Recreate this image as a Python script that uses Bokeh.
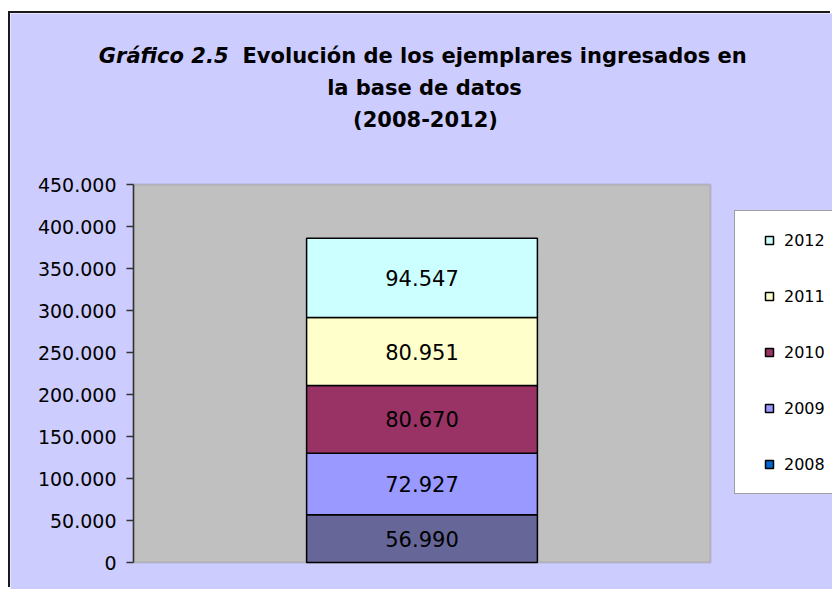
import numpy as np
from bokeh.plotting import figure
from bokeh.models import (Range1d, FixedTicker, Legend, LegendItem, Label,
                          ColumnDataSource, BoxAnnotation)
from bokeh.core.properties import value
from bokeh.embed import file_html
from bokeh.resources import INLINE

# ---------------- data ----------------
years = ["2008", "2009", "2010", "2011", "2012"]
values = [56990, 72927, 80670, 80951, 94547]
bar_colors = ["#666699", "#9999FF", "#993366", "#FFFFCC", "#CCFFFF"]
legend_colors = ["#0066CC", "#9999FF", "#993366", "#FFFFCC", "#CCFFFF"]
category = ["Total"]
y_ticks = [0, 50000, 100000, 150000, 200000, 250000, 300000, 350000, 400000, 450000]
title_italic = "Gráfico 2.5"
title_line1 = "Evolución de los ejemplares ingresados en"
title_line2 = "la base de datos"
title_line3 = "(2008-2012)"


def fmt(v):
    return f"{int(v):,}".replace(",", ".")


FONT = "DejaVu Sans"
LAV = "#CCCCFF"

# layout in pixels (figure-relative); the frame covers the whole canvas
W, H = 822, 576
PLOT_L, PLOT_B = 123, 27           # grey plot area offset from frame left / bottom
PLOT_W, PLOT_H = 577, 378          # grey plot area size
Y_MAX = y_ticks[-1]

# category positions on a numeric axis (0..1 per category)
xs = [i + 0.5 for i in range(len(category))]
n_cat = len(category)
ux = n_cat / PLOT_W                # data units per pixel in x
uy = Y_MAX / PLOT_H                # data units per pixel in y

p = figure(x_range=Range1d(-PLOT_L * ux, (W - PLOT_L) * ux),
           y_range=Range1d(-PLOT_B * uy, (H - PLOT_B) * uy),
           width=W, height=H, output_backend="svg", toolbar_location=None,
           title=None, min_border=0)
p.margin = (13, 0, 0, 10)
p.styles = {"box-shadow": "-2px -2px 0 0 #1a1a1a"}

p.background_fill_color = LAV
p.border_fill_color = LAV
p.outline_line_color = None
p.xgrid.visible = False
p.ygrid.visible = False
p.xaxis.visible = False

# grey plot area
p.add_layout(BoxAnnotation(left=0, right=n_cat, bottom=0, top=Y_MAX,
                           fill_color="#C0C0C0", fill_alpha=1.0,
                           line_color="#808080", line_width=2, level="underlay"))

yax = p.yaxis[0]
yax.fixed_location = 0
yax.bounds = (0, Y_MAX)
yax.ticker = FixedTicker(ticks=y_ticks)
yax.major_label_overrides = {t_: fmt(t_) for t_ in y_ticks}
yax.major_label_text_font = FONT
yax.major_label_text_font_size = "19px"
yax.major_label_text_color = "black"
yax.major_tick_out = 7
yax.major_tick_in = 0
yax.minor_tick_line_color = None
yax.major_label_standoff = 10
yax.axis_line_color = "#333333"
yax.axis_line_width = 1.5
yax.major_tick_line_color = "#333333"
yax.major_tick_line_width = 1.5

# stacked bar
src = ColumnDataSource(dict(x=xs, **{y: [v] for y, v in zip(years, values)}))
p.vbar_stack(years, x="x", width=0.4, source=src, fill_color=bar_colors,
             line_color="black", line_width=1.5)

# value labels
cum = np.cumsum(values)
mids = cum - np.array(values) / 2.0
p.text(x=xs * len(values), y=mids, text=[fmt(v) for v in values],
       text_align="center", text_baseline="middle", text_font=value(FONT),
       text_font_size="21px", text_color="black")

# legend (top to bottom: 2012 .. 2008); proxy renderers carry the legend colours
items = []
for yr, c in reversed(list(zip(years, legend_colors))):
    r = p.scatter(x=xs, y=[np.nan] * len(xs), marker="square", size=8,
                  fill_color=c, line_color="black", line_width=1.5)
    items.append(LegendItem(label=yr, renderers=[r]))
legend = Legend(items=items, location=(724, 95), orientation="vertical",
                glyph_width=30, glyph_height=20, label_height=20,
                label_standoff=0, spacing=36, padding=19,
                label_text_font=FONT, label_text_font_size="16px",
                label_text_color="black",
                border_line_color="#404040", border_line_width=1,
                background_fill_color="white", background_fill_alpha=1.0)
p.add_layout(legend)

# title (screen units relative to the frame's bottom-left)
common = dict(x_units="screen", y_units="screen", text_baseline="alphabetic",
              text_font=FONT, text_font_size="21px", text_color="black")
p.add_layout(Label(x=218, y=534, text=title_italic, text_align="right",
                   text_font_style="bold italic", **common))
p.add_layout(Label(x=232, y=534, text=title_line1, text_align="left",
                   text_font_style="bold", **common))
p.add_layout(Label(x=414, y=502, text=title_line2, text_align="center",
                   text_font_style="bold", **common))
p.add_layout(Label(x=415, y=470, text=title_line3, text_align="center",
                   text_font_style="bold", **common))

open("out.html", "w").write(file_html(p, INLINE))
